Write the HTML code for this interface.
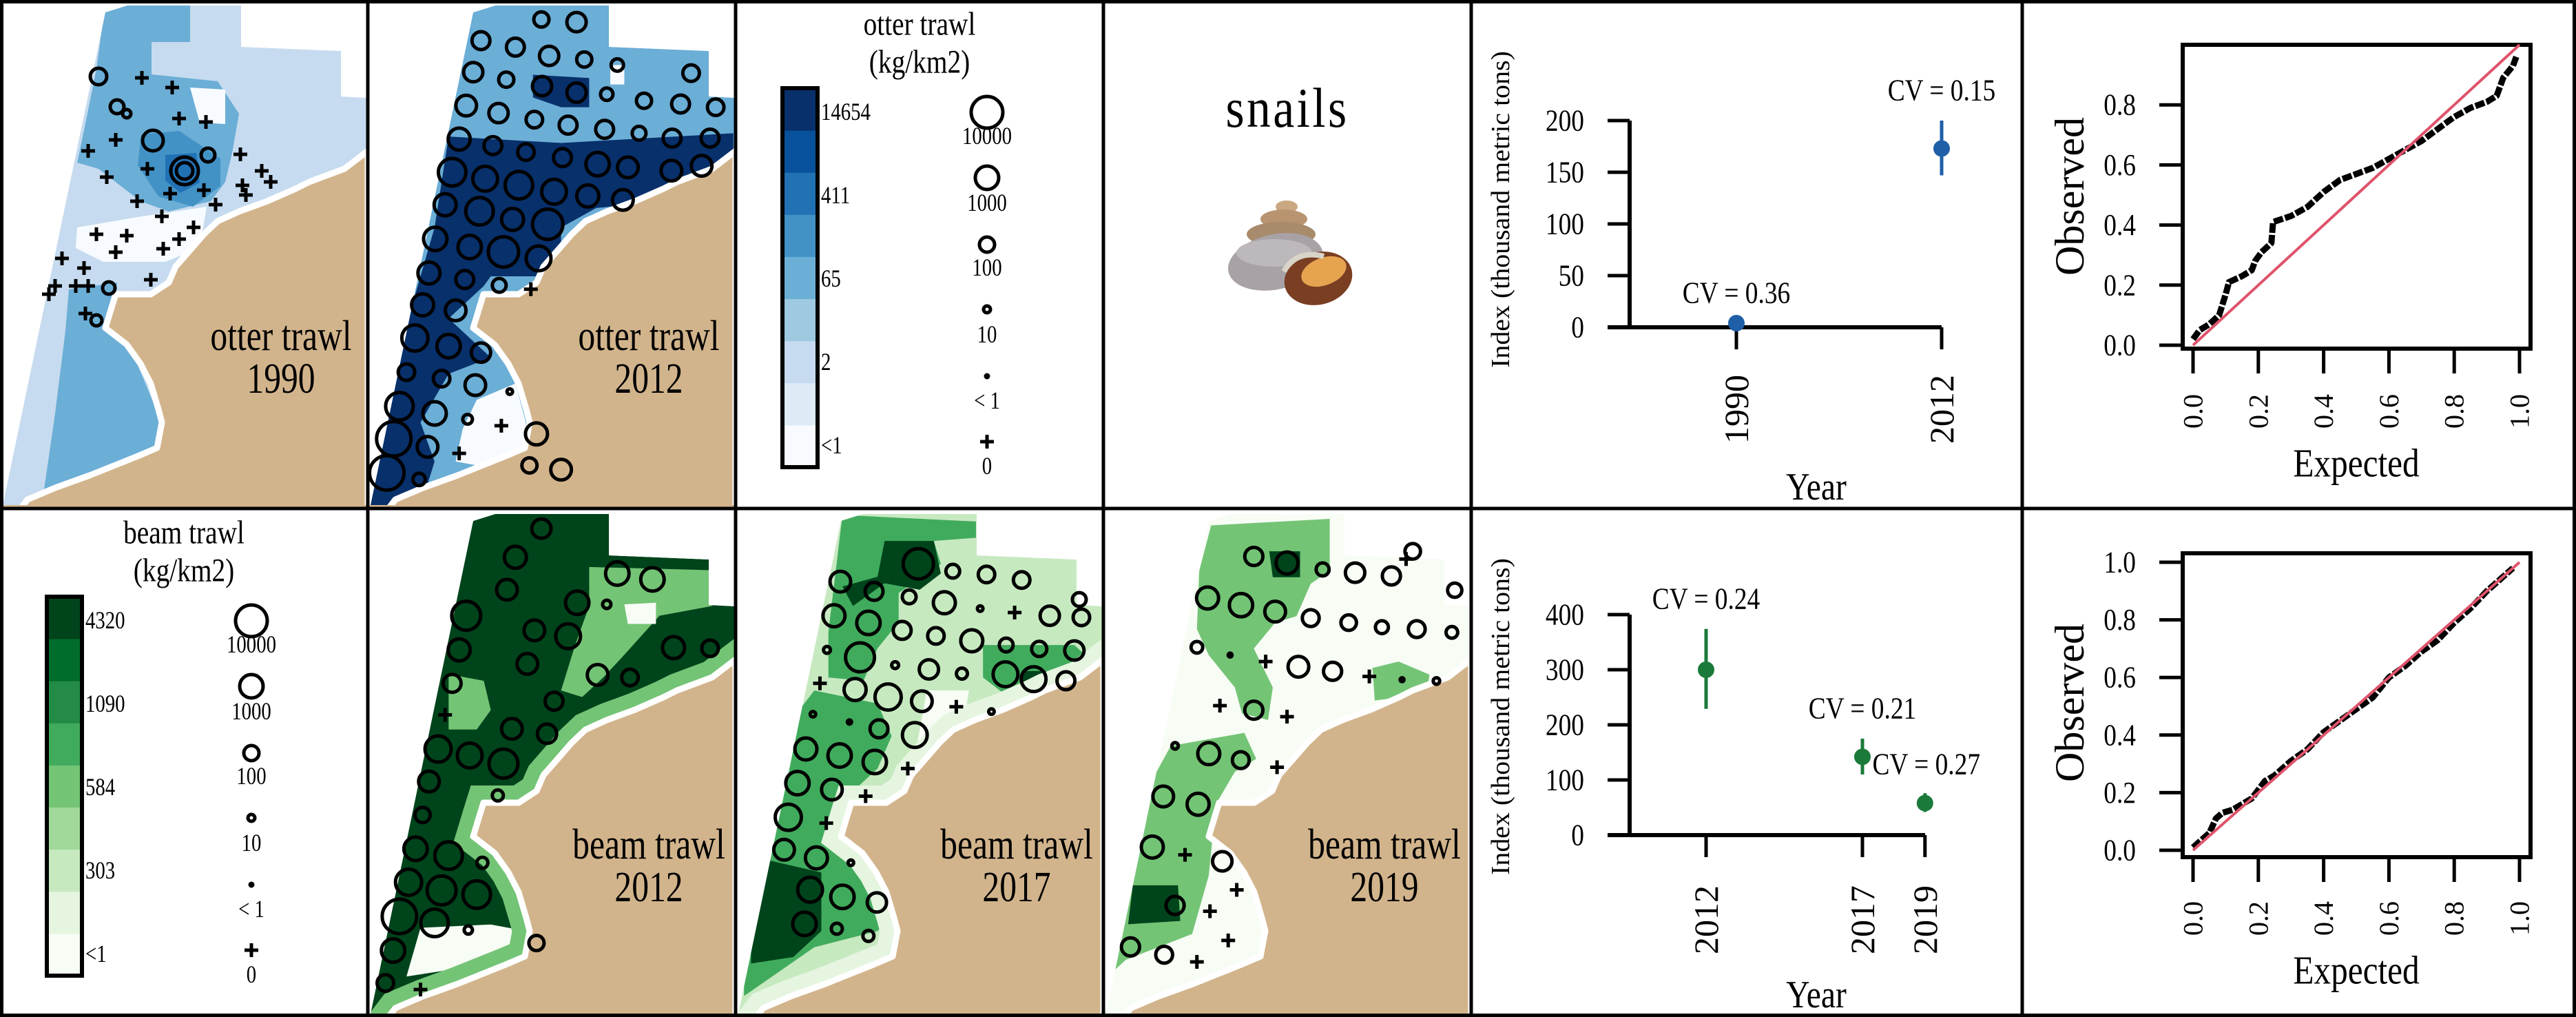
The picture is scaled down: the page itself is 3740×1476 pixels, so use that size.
<!DOCTYPE html>
<html><head><meta charset="utf-8"><style>
html,body{margin:0;padding:0;background:#fff}
svg{display:block}
text{font-family:"Liberation Serif",serif;fill:#000}
</style></head><body>
<svg id="fig" width="3740" height="1476" viewBox="0 0 3740 1476" xmlns="http://www.w3.org/2000/svg">
<rect x="0" y="0" width="3740" height="1476" fill="#fff"/>
<g id="maps"></g>
<g id="legends"></g>
<g id="snail">
  <text transform="translate(1869 184) scale(0.85 1)" x="0" y="0" font-size="82" text-anchor="middle" letter-spacing="4">snails</text>
  <g>
    <ellipse cx="1868" cy="300" rx="16" ry="9" fill="#c9a882"/>
    <ellipse cx="1864" cy="318" rx="34" ry="14" fill="#b89470"/>
    <ellipse cx="1860" cy="340" rx="50" ry="18" fill="#a88a6c"/>
    <ellipse cx="1852" cy="380" rx="70" ry="40" fill="#a8a2a6" transform="rotate(-12 1852 380)"/>
    <ellipse cx="1850" cy="367" rx="55" ry="20" fill="#bdb8bc"/>
    <ellipse cx="1914" cy="404" rx="50" ry="38" fill="#7a3e22" transform="rotate(-15 1914 404)"/>
    <ellipse cx="1922" cy="394" rx="34" ry="20" fill="#e6a451" transform="rotate(-20 1922 394)"/>
    <path d="M1864 394 Q1882 362 1922 372" stroke="#d9d4c8" stroke-width="8" fill="none"/>
  </g>
</g>
<g id="idx"></g>
<g id="qq"></g>
<g id="grid" stroke="#000" stroke-width="5" fill="none">
  <rect x="2.5" y="2.5" width="3735" height="1471"/>
  <line x1="0" y1="738" x2="3740" y2="738"/>
  <line x1="534" y1="0" x2="534" y2="1476"/>
  <line x1="1068" y1="0" x2="1068" y2="1476"/>
  <line x1="1602" y1="0" x2="1602" y2="1476"/>
  <line x1="2136" y1="0" x2="2136" y2="1476"/>
  <line x1="2936" y1="0" x2="2936" y2="1476"/>
</g>
</svg>
<script>
// ---------- chart data ----------
const topYears = [1990, 2012];
const topIndex = [4, 173];
const topLow = [1, 147];
const topHigh = [7, 200];
const topCV = ["CV = 0.36", "CV = 0.15"];
const topYTicks = [0, 50, 100, 150, 200];

const botYears = [2012, 2017, 2019];
const botIndex = [300, 142, 58];
const botLow = [229, 110, 42];
const botHigh = [374, 175, 76];
const botCV = ["CV = 0.24", "CV = 0.21", "CV = 0.27"];
const botYTicks = [0, 100, 200, 300, 400];

const qqTopExp = [0.00,0.02,0.05,0.08,0.10,0.11,0.15,0.18,0.19,0.21,0.24,0.245,0.30,0.35,0.40,0.45,0.50,0.55,0.60,0.65,0.70,0.75,0.80,0.85,0.90,0.93,0.95,0.98,0.99];
const qqTopObs = [0.02,0.05,0.07,0.10,0.17,0.21,0.23,0.25,0.28,0.31,0.34,0.41,0.43,0.46,0.51,0.55,0.57,0.59,0.62,0.65,0.68,0.72,0.76,0.79,0.81,0.83,0.89,0.93,0.96];
const qqTopYTicks = [0, 0.2, 0.4, 0.6, 0.8];
const qqBotExp = [0.00,0.02,0.05,0.07,0.09,0.12,0.15,0.18,0.20,0.22,0.25,0.30,0.35,0.40,0.45,0.50,0.55,0.60,0.65,0.70,0.75,0.80,0.85,0.90,0.95,0.98];
const qqBotObs = [0.01,0.03,0.06,0.11,0.13,0.14,0.16,0.18,0.21,0.24,0.26,0.31,0.35,0.41,0.45,0.49,0.53,0.60,0.64,0.69,0.73,0.79,0.84,0.90,0.95,0.98];
const qqBotYTicks = [0, 0.2, 0.4, 0.6, 0.8, 1.0];
const qqXTicks = [0, 0.2, 0.4, 0.6, 0.8, 1.0];

const NS = "http://www.w3.org/2000/svg";
function el(tag, attrs, parent) {
  const e = document.createElementNS(NS, tag);
  for (const k in attrs) e.setAttribute(k, attrs[k]);
  parent.appendChild(e);
  return e;
}
function txt(s, x, y, size, parent, anchor, fill, rot, sx) {
  const t = el("text", {x: 0, y: 0, "font-size": size, "text-anchor": anchor || "middle", "dominant-baseline": "central"}, parent);
  if (fill) t.setAttribute("fill", fill);
  let tr = "translate(" + x + " " + y + ")";
  if (rot) tr += " rotate(" + rot + ")";
  if (sx) tr += " scale(" + sx + " 1)";
  t.setAttribute("transform", tr);
  t.textContent = s;
  return t;
}

// ---------- index plots ----------
const idx = document.getElementById("idx");
function indexPlot(years, vals, lo, hi, cvs, ticks, xf, yf, col, y0, yTopPx, xEnd, cvPos, yearY, yearLabelY, titleY) {
  const g = el("g", {}, idx);
  
  
  el("line", {x1: 2366, y1: yTopPx, x2: 2366, y2: y0, stroke: "#000", "stroke-width": 6}, g);
  el("line", {x1: 2334, y1: y0, x2: xEnd, y2: y0, stroke: "#000", "stroke-width": 6}, g);
  ticks.forEach(t => {
    const tk = el("line", {x1: 2334, y1: yf(t), x2: 2366, y2: yf(t), stroke: "#000", "stroke-width": 5}, g);
    
    
    const lb = txt(String(t), 2300, yf(t), 44, g, "end", null, 0, 0.85);
    
    
  });
  years.forEach((yr, i) => {
    const x = xf(yr);
    el("line", {x1: x, y1: y0, x2: x, y2: y0 + 32, stroke: "#000", "stroke-width": 5}, g);
    const yl = txt(String(yr), x, yearY, 50, g, "middle", null, -90);
    
    
    const eb = el("line", {x1: x, y1: yf(hi[i]), x2: x, y2: yf(lo[i]), stroke: col, "stroke-width": 5}, g);
    
    
    const pt = el("circle", {cx: x, cy: yf(vals[i]), r: 12, fill: col}, g);
    
    
    const cv = txt(cvs[i], x + cvPos[i][0], cvPos[i][1], 44, g, "middle", col, 0, 0.85);
    
    
  });
  const yt = txt("Index (thousand metric tons)", 2179, titleY, 38, g, "middle", null, -90, 1.05);
  
  
  const xt = txt("Year", 2637, yearLabelY, 56, g, "middle", null, 0, 0.85);
  
  
}
indexPlot(topYears, topIndex, topLow, topHigh, topCV, topYTicks,
  y => 2521 + (y - 1990) * 13.545, v => 475 - v * 1.5, "#1f5fa8", 475, 175, 2819,
  [[0, 425], [0, 131]], 594, 707, 304);
indexPlot(botYears, botIndex, botLow, botHigh, botCV, botYTicks,
  y => 2477 + (y - 2012) * 45.4, v => 1212 - v * 0.8, "#1b7a3a", 1212, 892, 2795,
  [[0, 869], [0, 1028], [2, 1109]], 1335, 1444, 1040);

// ---------- QQ plots ----------
const qq = document.getElementById("qq");
function qqPlot(ex, ob, yticks, y0, unit, boxTop, boxBot, tickLabY, obsY, expY) {
  const g = el("g", {}, qq);
  
  
  const xf = v => 3184 + v * 474, yf = v => y0 - v * unit;
  el("rect", {x: 3169, y: boxTop, width: 505, height: boxBot - boxTop, fill: "none", stroke: "#000", "stroke-width": 6}, g);
  yticks.forEach(t => {
    el("line", {x1: 3135, y1: yf(t), x2: 3169, y2: yf(t), stroke: "#000", "stroke-width": 5}, g);
    const lb = txt(t.toFixed(1), 3101, yf(t), 44, g, "end", null, 0, 0.85);
    
    
  });
  qqXTicks.forEach(t => {
    el("line", {x1: xf(t), y1: boxBot, x2: xf(t), y2: boxBot + 36, stroke: "#000", "stroke-width": 5}, g);
    const lb = txt(t.toFixed(1), xf(t), tickLabY, 40, g, "middle", null, -90);
    
    
  });
  const pts = ex.map((v, i) => xf(v) + "," + yf(ob[i])).join(" ");
  const pl = el("polyline", {points: pts, fill: "none", stroke: "#000", "stroke-width": 9, "stroke-linejoin": "round", "stroke-dasharray": "14 3"}, g);
  
  
  const rl = el("line", {x1: xf(0), y1: yf(0), x2: xf(1), y2: yf(1), stroke: "#df536b", "stroke-width": 4}, g);
  
  
  const ot = txt("Observed", 3005, obsY, 60, g, "middle", null, -90);
  
  
  const et = txt("Expected", 3421, expY, 58, g, "middle", null, 0, 0.85);
  
  
}
qqPlot(qqTopExp, qqTopObs, qqTopYTicks, 501, 436, 65, 506, 597, 285, 672);
qqPlot(qqBotExp, qqBotObs, qqBotYTicks, 1234, 418, 803, 1244, 1333, 1020, 1408);

// ---------- legends ----------
const blues = ["#f7fbff","#deebf7","#c6dbef","#9ecae1","#6baed6","#4292c6","#2171b5","#08519c","#08306b"];
const greens = ["#f7fcf5","#e5f5e0","#c7e9c0","#a1d99b","#74c476","#41ab5d","#238b45","#006d2c","#00441b"];
const leg = document.getElementById("legends");
function legend(ox, oy, title, pal, labels) {
  const g = el("g", {}, leg);
  
  
  txt(title, ox + 267, oy + 35, 48, g, "middle", null, 0, 0.82);
  txt("(kg/km2)", ox + 267, oy + 90, 48, g, "middle", null, 0, 0.82);
  const top = oy + 128, bot = oy + 678, h = (bot - top) / 9;
  for (let i = 0; i < 9; i++) {
    el("rect", {x: ox + 68, y: bot - (i + 1) * h, width: 51, height: h + 0.5, fill: pal[i]}, g);
  }
  el("rect", {x: ox + 68, y: top, width: 51, height: bot - top, fill: "none", stroke: "#000", "stroke-width": 6}, g);
  labels.forEach((l, i) => txt(l, ox + 124, oy + 163 + i * 121, 36, g, "start", null, 0, 0.8));
  const cx = ox + 365;
  const cs = [[163, 23, "10000", 198], [258, 17, "1000", 295], [355, 11, "100", 389], [449, 5, "10", 486], [546, 2, "< 1", 582]];
  cs.forEach(c => {
    el("circle", {cx: cx, cy: oy + c[0], r: c[1], fill: c[1] < 3 ? "#000" : "none", stroke: "#000", "stroke-width": 5}, g);
    txt(c[2], cx, oy + c[3], 36, g, "middle", null, 0, 0.8);
  });
  el("path", {d: `M${cx-10} ${oy+641}h20M${cx} ${oy+631}v20`, stroke: "#000", "stroke-width": 5}, g);
  txt("0", cx, oy + 677, 36, g, "middle", null, 0, 0.8);
}
legend(1068, 0, "otter trawl", blues, ["14654", "411", "65", "2", "<1"]);
legend(0, 738, "beam trawl", greens, ["4320", "1090", "584", "303", "<1"]);

// ---------- maps ----------
const maps = document.getElementById("maps");
const domain = [[153,18],[185,8],[350,8],[350,68],[495,74],[495,140],[534,142],[534,738],[3,738]];
const land = [[534,219],[500,245],[449,264],[429,274],[388,292],[347,307],[316,321],[296,340],[276,363],[255,387],[245,410],[219,427],[168,427],[163,443],[153,476],[184,500],[204,528],[219,557],[230,594],[235,613],[228,650],[200,662],[170,674],[130,690],[80,708],[40,725],[30,738],[534,738]];
const P = a => a.map(p => p.join(",")).join(" ");
let clipN = 0;
function mapPanel(ox, oy, name, base, fringe, polys, circles, crosses, conv, l1, l2) {
  const g = el("g", {transform: `translate(${ox},${oy})`}, maps);
  
  
  const id = "dc" + (clipN++);
  const cp = el("clipPath", {id: id}, g);
  el("polygon", {points: P(domain)}, cp);
  const sea = el("g", {"clip-path": `url(#${id})`}, g);
  el("polygon", {points: P(domain), fill: base}, sea);
  polys.forEach(p => el("polygon", {points: P(p[1].map(conv)), fill: p[0]}, sea));
  if (fringe) el("polygon", {points: P(land), fill: "none", stroke: fringe, "stroke-width": 50}, sea);
  const ld = el("polygon", {points: P(land), fill: "#d2b48c", stroke: "#fff", "stroke-width": 9, "stroke-linejoin": "round"}, g);
  
  
  el("rect", {x: 0, y: 733, width: 534, height: 5, fill: "#d2b48c"}, g);
  circles.forEach(c => {
    const p = conv([c[0], c[1]]);
    el("circle", {cx: p[0], cy: p[1], r: c[2] * (conv.rs || 1), fill: c[2] < 4 ? "#000" : "none", stroke: "#000", "stroke-width": 5}, g);
  });
  crosses.forEach(c => {
    const p = conv(c);
    el("path", {d: `M${p[0]-10} ${p[1]}h20M${p[0]} ${p[1]-10}v20`, stroke: "#000", "stroke-width": 5}, g);
  });
  txt(l1, 408, 488, 62, g, "middle", null, 0, 0.8);
  txt(l2, 408, 550, 62, g, "middle", null, 0, 0.8);
}
const cz = (dx) => { const f = p => [(p[0] - dx) / 0.98, p[1] / 2.12]; return f; };
const c2 = cz(525), c3 = cz(1048);
const id = p => p;
const c5 = p => [p[0] / 2.904 - 2, p[1] * 0.9413 - 738]; c5.rs = 0.94;

// otter 1990
mapPanel(0, 0, "map-otter-1990", "#c6dbef", null, [
  ["#6baed6", [[153,5],[276,5],[276,61],[220,61],[220,108],[316,118],[347,165],[337,222],[327,264],[306,292],[245,307],[204,292],[143,245],[112,236],[122,189],[140,100]]],
  ["#f7fbff", [[276,127],[327,130],[327,180],[290,178]]],
  ["#f7fbff", [[112,330],[200,315],[300,300],[290,360],[240,380],[150,380],[110,360]]],
  ["#6baed6", [[100,420],[170,410],[165,470],[200,530],[225,590],[260,650],[290,738],[60,738],[80,600],[95,480]]],
  ["#4292c6", [[205,195],[260,190],[320,230],[320,270],[280,300],[230,285],[200,240]]],
  ["#2171b5", [[240,225],[285,222],[290,265],[262,280],[240,262]]]
], [[143,111,12],[170,155,10],[184,165,6],[222,204,15],[302,225,10],[268,248,20],[268,248,12],[158,418,9],[140,465,8]],
[[206,113],[250,127],[260,172],[299,177],[168,203],[128,219],[349,224],[155,257],[214,245],[380,248],[393,264],[352,269],[357,283],[247,281],[296,276],[199,292],[313,297],[235,314],[281,330],[260,347],[140,340],[184,342],[237,361],[168,366],[90,375],[122,389],[219,406],[80,415],[110,415],[128,415],[71,427],[124,455]],
id, "otter trawl", "1990");

// otter 2012
mapPanel(534, 0, "map-otter-2012", "#6baed6", null, [
  ["#08306b", [[640,420],[800,440],[1045,410],[1045,470],[990,560],[900,630],[850,640],[800,700],[800,850],[700,850],[690,880],[640,980],[680,1060],[700,1100],[640,1150],[600,1300],[620,1420],[600,1560],[525,1560],[540,1300],[580,1000],[620,700]]],
  ["#08306b", [[760,230],[840,240],[840,330],[800,330],[760,300]]],
  ["#f7fbff", [[870,200],[890,200],[890,260],[870,260]]],
  ["#f7fbff", [[680,1230],[735,1180],[750,1300],[745,1420],[700,1440],[650,1420],[660,1320]]],
  ["#4292c6", [[750,1300],[810,1310],[820,1500],[760,1500]]]
], [[772,60,11],[822,68,14],[686,125,13],[735,145,13],[783,172,14],[833,183,11],[880,200,9],[675,222,14],[722,245,11],[773,265,14],[822,285,14],[865,290,9],[918,310,11],[970,320,13],[1020,330,12],[985,225,12],[665,325,15],[711,348,14],[762,368,12],[810,385,13],[862,398,13],[911,410,10],[958,425,13],[1012,425,13],[655,428,16],[703,448,13],[750,468,12],[802,485,13],[852,505,17],[895,515,15],[957,525,15],[1000,510,15],[645,530,20],[692,550,18],[740,570,20],[790,590,18],[838,603,16],[888,615,15],[635,630,16],[684,650,20],[731,675,16],[781,690,22],[621,735,17],[670,760,17],[718,775,22],[768,795,18],[612,840,16],[663,860,13],[712,878,10],[603,938,16],[650,955,15],[592,1040,19],[640,1065,17],[686,1085,14],[580,1145,12],[630,1165,12],[678,1185,15],[570,1250,20],[620,1272,17],[562,1350,25],[610,1375,15],[552,1455,25],[598,1475,9],[765,1335,16],[755,1432,11],[800,1445,15],[667,1290,7],[727,1205,4]],
[[757,890],[715,1310],[655,1395]], c2, "otter trawl", "2012");

// beam 2012
mapPanel(534, 738, "map-beam-2012", "#00441b", "#74c476", [
  ["#74c476", [[840,180],[1015,190],[1015,300],[940,330],[890,450],[860,520],[830,580],[800,560],[820,420],[840,300]]],
  ["#00441b", [[940,420],[1045,300],[1045,470],[1000,540],[940,550]]],
  ["#f7fcf5", [[890,295],[935,290],[935,355],[895,355]]],
  ["#74c476", [[640,510],[690,530],[700,620],[680,680],[640,680]]],
  ["#f7fcf5", [[600,1290],[700,1280],[750,1300],[740,1420],[640,1420],[580,1440]]],
  ["#74c476", [[740,1300],[810,1310],[820,1500],[750,1500]]]
], [[772,62,14],[735,150,16],[723,250,15],[823,290,17],[880,200,17],[930,218,17],[865,295,6],[665,330,21],[762,375,15],[810,393,18],[655,435,16],[752,478,15],[960,428,16],[1012,430,12],[852,512,15],[898,520,12],[645,538,13],[790,593,13],[730,678,15],[780,693,14],[625,740,19],[670,760,18],[718,785,21],[612,840,15],[710,883,8],[603,943,11],[593,1047,17],[640,1068,20],[688,1090,8],[583,1150,19],[630,1175,21],[680,1188,20],[570,1255,25],[620,1275,20],[561,1360,17],[550,1460,12],[668,1297,6],[765,1337,11]],
[[635,635],[600,1480]], c2, "beam trawl", "2012");

// beam 2017
mapPanel(1068, 738, "map-beam-2017", "#c7e9c0", "#e5f5e0", [
  ["#41ab5d", [[1200,20],[1390,40],[1390,90],[1330,100],[1340,170],[1280,260],[1280,350],[1250,430],[1230,530],[1180,520],[1180,380],[1190,200]]],
  ["#00441b", [[1260,100],[1330,100],[1340,200],[1310,250],[1260,230],[1215,300],[1200,240],[1250,210]]],
  ["#41ab5d", [[1400,420],[1530,420],[1560,480],[1540,560],[1430,570],[1400,520]]],
  ["#00441b", [[1455,500],[1490,500],[1490,545],[1455,545]]],
  ["#41ab5d", [[1160,560],[1250,600],[1270,700],[1250,800],[1200,900],[1190,1000],[1230,1100],[1270,1250],[1250,1300],[1160,1350],[1060,1500],[1060,1000],[1110,700]]],
  ["#00441b", [[1090,1080],[1170,1120],[1170,1300],[1130,1380],[1070,1400],[1070,1200]]],
  ["#f7fcf5", [[1320,560],[1380,560],[1370,700],[1330,880],[1290,900],[1300,800]]]
], [[1308,170,22],[1357,193,10],[1405,203,12],[1455,220,12],[1197,225,15],[1245,255,13],[1295,272,10],[1345,290,16],[1396,308,4],[1495,330,14],[1540,335,12],[1537,280,10],[1188,330,16],[1237,352,17],[1285,375,13],[1333,392,12],[1384,407,16],[1433,420,10],[1480,432,11],[1530,437,14],[1178,435,5],[1225,458,21],[1275,482,5],[1323,495,14],[1370,508,8],[1432,510,18],[1472,525,18],[1518,530,13],[1218,557,16],[1265,580,19],[1313,593,15],[1158,633,4],[1210,657,3],[1252,678,13],[1303,697,18],[1412,625,4],[1148,740,16],[1196,760,17],[1246,780,17],[1136,845,17],[1185,865,15],[1123,950,19],[1117,1050,15],[1163,1075,16],[1212,1090,4],[1154,1173,18],[1200,1195,17],[1249,1212,14],[1146,1278,17],[1192,1293,8],[1237,1315,8]],
[[1168,538],[1445,320],[1362,610],[1293,800],[1233,885],[1177,968]], c3, "beam trawl", "2017");

// beam 2019
mapPanel(1602, 738, "map-beam-2019", "#f7fcf5", null, [
  ["#74c476", [[460,810],[960,800],[960,880],[880,900],[820,950],[730,960],[640,1000],[720,1060],[700,1110],[590,1100],[560,1060],[450,1010],[400,970],[410,880]]],
  ["#74c476", [[290,1150],[600,1130],[650,1170],[560,1190],[480,1240],[450,1350],[380,1440],[240,1460],[100,1480],[40,1500],[100,1400],[160,1290],[200,1210]]],
  ["#74c476", [[1140,1030],[1250,1020],[1380,1040],[1370,1070],[1150,1080]]],
  ["#00441b", [[705,850],[835,850],[835,890],[720,890]]],
  ["#00441b", [[130,1365],[320,1365],[330,1420],[110,1425]]]
], [[640,858,14],[780,868,17],[930,878,10],[1067,883,15],[1220,888,14],[1310,850,12],[1487,910,11],[445,922,17],[586,933,18],[730,943,16],[880,953,13],[1040,960,12],[1180,967,10],[1327,970,13],[1475,975,9],[400,998,9],[828,1028,16],[972,1035,14],[640,1095,14],[450,1162,17],[585,1172,13],[308,1150,5],[258,1228,16],[405,1240,17],[212,1306,17],[507,1328,15],[308,1396,14],[120,1460,14],[262,1472,13],[1410,1050,5],[540,1010,3],[1265,1048,3]],
[[690,1020],[497,1088],[780,1105],[738,1183],[350,1318],[568,1372],[455,1405],[532,1450],[400,1483],[1127,1043],[1282,862]], c5, "beam trawl", "2019");
</script>
</body></html>
